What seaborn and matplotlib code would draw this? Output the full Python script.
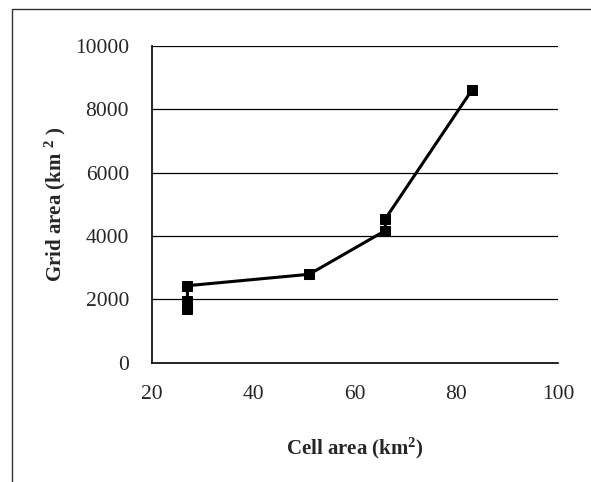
import matplotlib
matplotlib.use("Agg")
import matplotlib.pyplot as plt
import seaborn as sns
import pandas as pd
from matplotlib.patches import Rectangle

# gia tri doc tu hinh
cell_area = [27, 27, 27, 51, 66, 66, 83]
grid_area = [1700, 1950, 2430, 2790, 4170, 4540, 8590]

df = pd.DataFrame({"cell": cell_area, "grid": grid_area})

sns.set_style("white")
plt.rcParams["font.family"] = ["Liberation Serif", "DejaVu Serif"]
plt.rcParams["mathtext.fontset"] = "custom"
plt.rcParams["mathtext.rm"] = "Liberation Serif"
plt.rcParams["mathtext.bf"] = "Liberation Serif:bold"
plt.rcParams["mathtext.default"] = "bf"

fig = plt.figure(figsize=(5.91, 4.82), dpi=100)
ax = fig.add_axes([0.257, 0.2475, 0.687, 0.6575])

sns.lineplot(data=df, x="cell", y="grid", sort=False, estimator=None,
             color="black", linewidth=2.2, marker="s", markersize=7.5,
             markeredgecolor="black", ax=ax)

ax.set_xlim(20, 100)
ax.set_ylim(0, 10000)
ax.set_xticks([20, 40, 60, 80, 100])
ax.set_xticks([30, 50, 70, 90], minor=True)
ax.set_yticks([0, 2000, 4000, 6000, 8000, 10000])
ax.set_yticks([1000, 3000, 5000, 7000, 9000], minor=True)

for yv in [2000, 4000, 6000, 8000, 10000]:
    ax.axhline(yv, color="black", linewidth=0.9, zorder=0)

ax.tick_params(axis="both", which="major", direction="out", length=5,
               width=1, color="black", labelsize=15.5)
ax.tick_params(axis="y", which="major", direction="inout", length=9, pad=12)
ax.tick_params(axis="x", which="major", pad=11)
ax.tick_params(axis="both", which="minor", direction="out", length=4,
               width=1, color="black")

for side in ["top", "right"]:
    ax.spines[side].set_visible(False)
for side in ["left", "bottom"]:
    ax.spines[side].set_color("black")
    ax.spines[side].set_linewidth(1.2)

ax.set_xlabel("Cell area (km$^{2}$)", fontsize=15, fontweight="bold", labelpad=23)
ax.set_ylabel("Grid area (km $^{2}$ )", fontsize=15, fontweight="bold", labelpad=5)

# khung ngoai
fig.patches.append(Rectangle((12 / 591, -0.1), 1.2, 1.1 - 9 / 482,
                             transform=fig.transFigure, fill=False,
                             edgecolor="#333333", linewidth=1.0))

fig.savefig("out.png", dpi=100)
